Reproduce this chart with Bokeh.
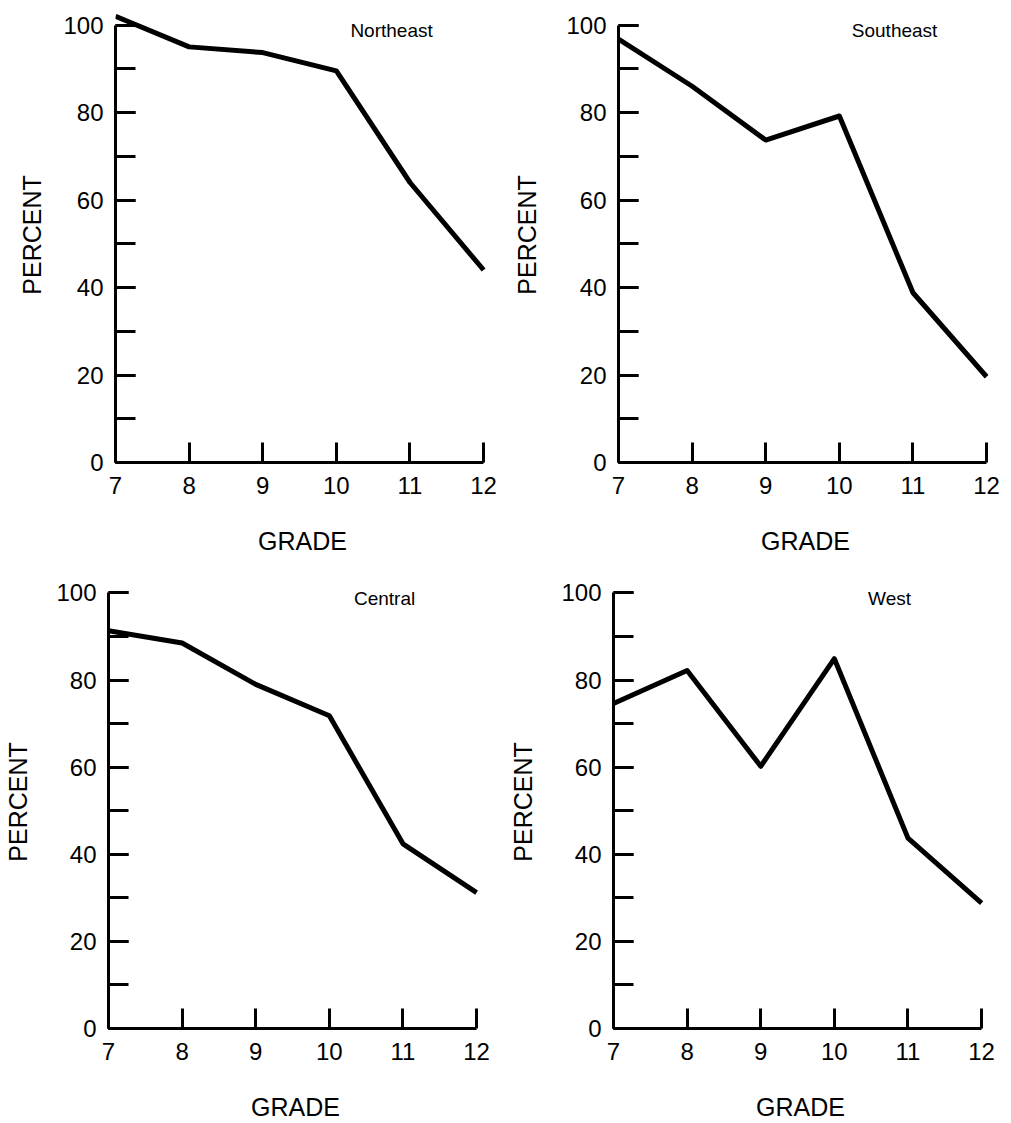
from bokeh.plotting import figure
from bokeh.models import Range1d, SingleIntervalTicker, FixedTicker, Label
from bokeh.layouts import column, row
from bokeh.embed import file_html
from bokeh.resources import INLINE

grades = [7, 8, 9, 10, 11, 12]
grade_ticks = [7, 8, 9, 10, 11, 12]
northeast = [102, 95, 93.7, 89.5, 64, 44]
southeast = [96.8, 86, 73.7, 79.2, 38.8, 19.6]
central = [91.3, 88.5, 79, 71.8, 42.4, 31.2]
west = [74.6, 82.2, 60.2, 84.9, 43.7, 28.8]
titles = ["Northeast", "Southeast", "Central", "West"]

FONT = "Liberation Sans"
FW, FH = 374, 456


def panel(name, vals, left, top, height, ylab_standoff):
    right = 505 - left - FW
    bottom = height - top - FH
    p = figure(width=505, height=height,
               x_range=Range1d(7, 12.08), y_range=Range1d(0, 104),
               output_backend="svg", toolbar_location=None,
               min_border_left=left, min_border_top=top,
               min_border_right=right, min_border_bottom=bottom)
    p.grid.visible = False
    p.outline_line_color = None
    p.background_fill_color = "white"
    p.border_fill_color = "white"

    p.line(grades, vals, line_width=5, line_color="black", line_join="round")

    xa = p.xaxis[0]
    xa.ticker = FixedTicker(ticks=grade_ticks)
    xa.bounds = (7, 12)
    xa.axis_label = "GRADE"
    xa.major_tick_in = 20
    xa.major_tick_out = 0
    xa.minor_tick_in = 0
    xa.minor_tick_out = 0
    xa.major_label_standoff = 14
    xa.axis_label_standoff = 30

    ya = p.yaxis[0]
    ya.ticker = SingleIntervalTicker(interval=20, num_minor_ticks=2)
    ya.bounds = (0, 100)
    ya.axis_label = "PERCENT"
    ya.major_tick_in = 20
    ya.major_tick_out = 0
    ya.minor_tick_in = 20
    ya.minor_tick_out = 0
    ya.major_label_standoff = 12
    ya.axis_label_standoff = ylab_standoff

    for ax in (xa, ya):
        ax.axis_line_width = 3
        ax.axis_line_color = "black"
        ax.major_tick_line_width = 3
        ax.major_tick_line_color = "black"
        ax.minor_tick_line_width = 3
        ax.minor_tick_line_color = "black"
        ax.major_label_text_font = FONT
        ax.major_label_text_font_size = "24px"
        ax.major_label_text_color = "black"
        ax.axis_label_text_font = FONT
        ax.axis_label_text_font_size = "25px"
        ax.axis_label_text_font_style = "normal"
        ax.axis_label_text_color = "black"

    p.add_layout(Label(x=10.75, y=98.7, text=name, text_align="center",
                       text_baseline="middle", text_font=FONT,
                       text_font_size="19px", text_color="black"))
    return p


p1 = panel(titles[0], northeast, 115, 6, 561, 14)
p2 = panel(titles[1], southeast, 113, 7, 561, 22)
p3 = panel(titles[2], central, 108, 11, 562, 21)
p4 = panel(titles[3], west, 108, 14, 562, 21)

layout = column(row(p1, p2), row(p3, p4))

open("out.html", "w").write(file_html(layout, INLINE))
